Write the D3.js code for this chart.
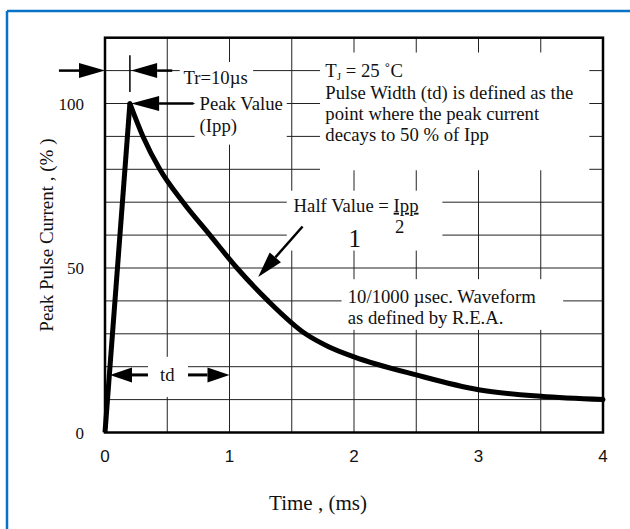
<!DOCTYPE html>
<html>
<head>
<meta charset="utf-8">
<script src="https://cdn.jsdelivr.net/npm/d3@7"></script>
<style>
	body { margin: 0; background: #fff; }
	text { font-family: "Liberation Serif", "Times New Roman", serif; fill: #111; }
</style>
</head>
<body>
<div id="chart"></div>
<script>
//Waveform readings (time in ms, current in % of Ipp)
let riseTime = [0, 0.2];
let riseCurrent = [0, 100];
let decayTime = [0.2, 0.305, 0.44, 0.627, 0.843, 1.06, 1.31, 1.61, 1.8, 2.0, 2.5, 3.0, 3.5, 4.0];
let decayCurrent = [100, 90, 80, 70, 60, 50, 40, 30, 26, 23, 17.5, 13, 11, 10];

//Axis ticks and grid
let xTicks = [0, 1, 2, 3, 4];
let yTicks = [0, 50, 100];
let xGrid = [0.5, 1, 1.5, 2, 2.5, 3, 3.5];
let yGrid = [10, 20, 30, 40, 50, 60, 70, 80, 90, 100, 110];

//Dimensions
let width = 630;
let height = 529;

let svg = d3.select("#chart").append("svg")
	.attr("width", width)
	.attr("height", height);

//Blue frame (top and left only are visible)
svg.append("line").attr("x1", 7).attr("x2", width).attr("y1", 11).attr("y2", 11)
	.attr("stroke", "#0a72c6").attr("stroke-width", 2.5);
svg.append("line").attr("x1", 7).attr("x2", 7).attr("y1", 11).attr("y2", height)
	.attr("stroke", "#0a72c6").attr("stroke-width", 2.5);

let x = d3.scaleLinear().domain([0, 4]).range([105, 603]);
let y = d3.scaleLinear().domain([0, 120]).range([432.5, 37.7]);

//Grid
svg.selectAll(".vgrid")
		.data(xGrid)
	.enter()
		.append("line")
			.attr("class", "vgrid")
			.attr("x1", d => x(d)).attr("x2", d => x(d))
			.attr("y1", y(120)).attr("y2", y(0))
			.attr("stroke", "#222")
			.attr("stroke-width", 1);

svg.selectAll(".hgrid")
		.data(yGrid)
	.enter()
		.append("line")
			.attr("class", "hgrid")
			.attr("x1", x(0)).attr("x2", x(4))
			.attr("y1", d => y(d)).attr("y2", d => y(d))
			.attr("stroke", "#222")
			.attr("stroke-width", 1);

//White boxes behind the notes, in data units [t0, t1, v0, v1]
let noteBoxes = [
	[0.6, 1.19, 104.8, 112.6],
	[0.72, 1.46, 87.5, 104.8],
	[1.727, 3.89, 79.7, 115.5],
	[1.46, 2.71, 55.3, 73.5],
	[1.9, 3.68, 31.2, 46.6],
	[0.345, 0.667, 10.8, 23]
];
svg.selectAll(".notebox")
		.data(noteBoxes)
	.enter()
		.append("rect")
			.attr("class", "notebox")
			.attr("fill", "#fff")
			.attr("x", d => x(d[0]))
			.attr("width", d => x(d[1]) - x(d[0]))
			.attr("y", d => y(d[3]))
			.attr("height", d => y(d[2]) - y(d[3]));

//Plot frame
svg.append("rect")
	.attr("x", x(0)).attr("y", y(120))
	.attr("width", x(4) - x(0)).attr("height", y(0) - y(120))
	.attr("fill", "none")
	.attr("stroke", "#000")
	.attr("stroke-width", 2.5);

//Waveform
let rise = d3.line()
	.x((d, i) => x(riseTime[i]))
	.y(d => y(d));
let decay = d3.line()
	.x((d, i) => x(decayTime[i]))
	.y(d => y(d))
	.curve(d3.curveMonotoneX);

svg.append("path")
	.attr("d", rise(riseCurrent))
	.attr("fill", "none").attr("stroke", "#000").attr("stroke-width", 5)
	.attr("stroke-linejoin", "round");
svg.append("path")
	.attr("d", decay(decayCurrent))
	.attr("fill", "none").attr("stroke", "#000").attr("stroke-width", 5)
	.attr("stroke-linecap", "round");

//Arrow helper: from tail to tip (data units)
let arrow = function(t1, v1, t2, v2, headLen, headHalf, shaft){
	let p1 = [x(t1), y(v1)];
	let p2 = [x(t2), y(v2)];
	let dx = p2[0] - p1[0], dy = p2[1] - p1[1];
	let len = Math.sqrt(dx * dx + dy * dy);
	let ux = dx / len, uy = dy / len;
	let bx = p2[0] - ux * headLen, by = p2[1] - uy * headLen;
	svg.append("line")
		.attr("x1", p1[0]).attr("y1", p1[1])
		.attr("x2", bx).attr("y2", by)
		.attr("stroke", "#000").attr("stroke-width", shaft);
	svg.append("polygon")
		.attr("points", [
			[p2[0], p2[1]],
			[bx - uy * headHalf, by + ux * headHalf],
			[bx + uy * headHalf, by - ux * headHalf]
		].map(p => p.join(",")).join(" "))
		.attr("fill", "#000");
}

//Tr = 10us markers
arrow(-0.37, 110, 0, 110, 26, 7.5, 2.5);
arrow(0.54, 110, 0.21, 110, 26, 7.5, 2.5);
svg.append("line")
	.attr("x1", x(0.2)).attr("x2", x(0.2))
	.attr("y1", y(114.7)).attr("y2", y(103.5))
	.attr("stroke", "#000").attr("stroke-width", 1.5);

//Peak value arrow
arrow(0.71, 100, 0.21, 100, 28, 7.5, 2.7);

//Half value arrow
arrow(1.587, 62.6, 1.23, 47.3, 26, 7.5, 2.5);

//td arrows
arrow(0.345, 17.5, 0.04, 17.5, 22, 7.5, 3);
arrow(0.667, 17.5, 1.0, 17.5, 22, 7.5, 3);

//Notes
let noteText = function(t, v, str, size){
	return svg.append("text")
		.attr("x", x(t)).attr("y", y(v))
		.style("font-size", (size || 18.7) + "px")
		.text(str);
}

noteText(0.63, 106, "Tr=10\u00b5s");
noteText(0.76, 98, "Peak Value");
noteText(0.76, 91.3, "(Ipp)");

let tj = svg.append("text")
	.attr("x", x(1.77)).attr("y", y(108.2))
	.style("font-size", "18.7px");
tj.append("tspan").text("T");
tj.append("tspan").attr("dy", 3).style("font-size", "11px").text("J");
tj.append("tspan").attr("dy", -3).text(" = 25 \u02daC");
noteText(1.77, 101.4, "Pulse Width (td) is defined as the");
noteText(1.77, 95, "point where the peak current");
noteText(1.77, 88.6, "decays to 50 % of Ipp");

let half = svg.append("text")
	.attr("x", x(1.515)).attr("y", y(67.1))
	.style("font-size", "18.7px");
half.append("tspan").text("Half Value = ");
half.append("tspan").style("text-decoration", "underline").text("Ipp");
noteText(2.33, 60.6, "2");
noteText(1.955, 56.5, "1", 25);

noteText(1.95, 39.4, "10/1000 \u00b5sec. Waveform");
noteText(1.95, 33, "as defined by R.E.A.");

noteText(0.5, 15.7, "td").attr("text-anchor", "middle");

//Axis tick labels
svg.selectAll(".xtick")
		.data(xTicks)
	.enter()
		.append("text")
			.attr("class", "xtick")
			.attr("x", d => x(d))
			.attr("y", 462)
			.attr("text-anchor", "middle")
			.style("font-family", "'Liberation Sans', Arial, sans-serif")
			.style("font-size", "17px")
			.text(d => d);

svg.selectAll(".ytick")
		.data(yTicks)
	.enter()
		.append("text")
			.attr("class", "ytick")
			.attr("x", 84)
			.attr("y", d => y(d) + 6)
			.attr("text-anchor", "end")
			.style("font-size", "17px")
			.text(d => d);

//Axis titles
svg.append("text")
	.attr("x", 318)
	.attr("y", 510)
	.attr("text-anchor", "middle")
	.style("font-size", "21px")
	.text("Time , (ms)");

svg.append("text")
	.attr("transform", "translate(53," + ((y(0) + y(120)) / 2) + ") rotate(-90)")
	.attr("text-anchor", "middle")
	.style("font-size", "19px")
	.text("Peak Pulse Current , (% )");
</script>
</body>
</html>
